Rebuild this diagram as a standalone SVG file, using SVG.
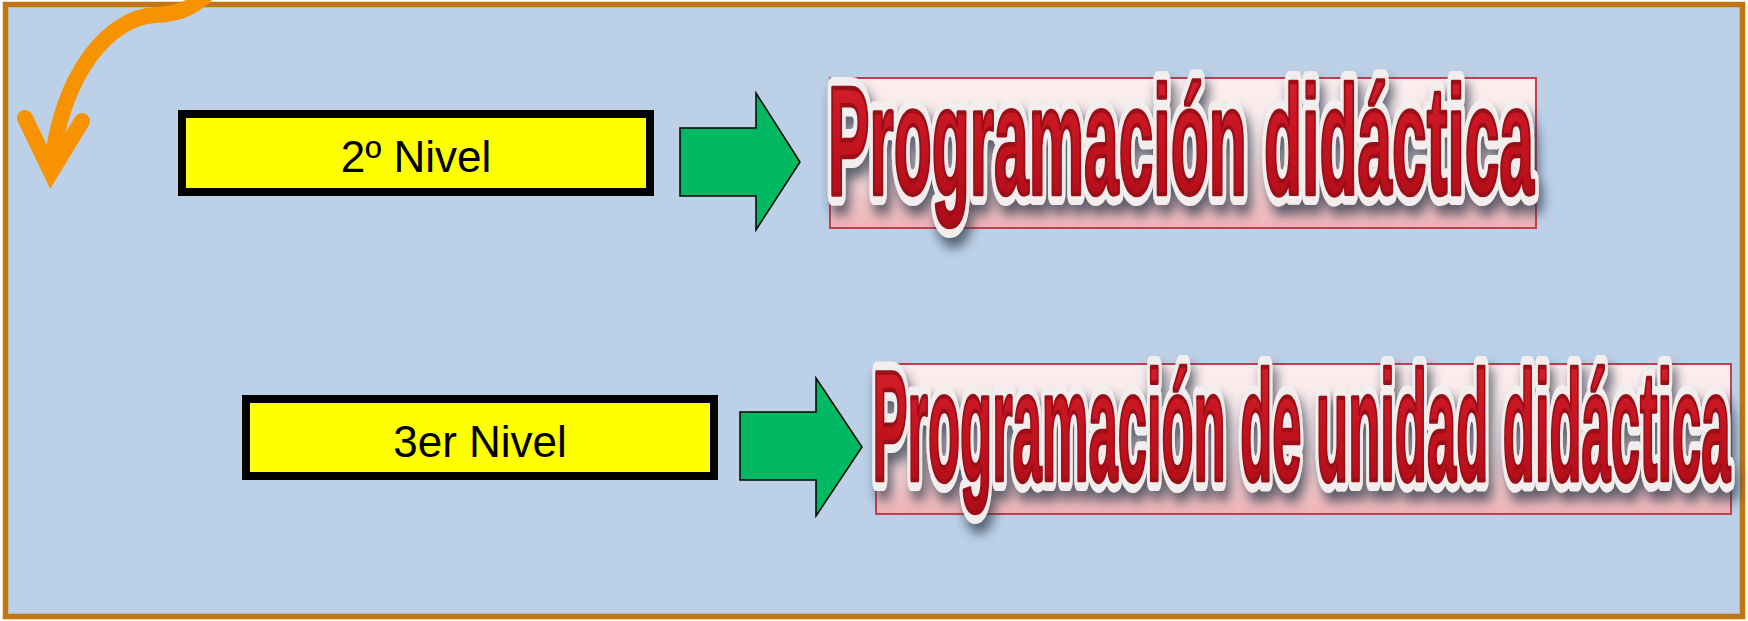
<svg xmlns="http://www.w3.org/2000/svg" width="1748" height="621" viewBox="0 0 1748 621">
<style>
.frame{fill:#BCD1E8;stroke:#C17612;stroke-width:5.5}
.lvl{fill:#FFFF00;stroke:#000;stroke-width:8}
.lvlt{font-family:"Liberation Sans",Arial,sans-serif;font-size:44px;fill:#000;text-anchor:middle}
.blk{fill:#00B862;stroke:#000;stroke-width:1.5;stroke-linejoin:miter}
.pink{fill:url(#pg);stroke:#C0404F;stroke-width:2}
.tt{font-family:"Liberation Sans",Arial,sans-serif;font-weight:bold}
.halo{fill:#F3EEEE;stroke:#F3EEEE;stroke-width:22;stroke-linejoin:round}
.red{fill:url(#rg);stroke:#9A0E18;stroke-width:4.5;stroke-linejoin:round}
.orange{fill:none;stroke:#F79300;stroke-width:16;stroke-linecap:round}
</style>
<defs>
<linearGradient id="pg" x1="0" y1="0" x2="0" y2="1">
<stop offset="0" stop-color="#FDEDEE"/>
<stop offset="0.5" stop-color="#F4E6E8"/>
<stop offset="1" stop-color="#F1B3B7"/>
</linearGradient>
<linearGradient id="rg" x1="0" y1="0" x2="0" y2="1">
<stop offset="0" stop-color="#D8222E"/>
<stop offset="0.5" stop-color="#C4141F"/>
<stop offset="1" stop-color="#AC0C17"/>
</linearGradient>
<filter id="sh" x="-5%" y="-20%" width="110%" height="150%">
<feDropShadow dx="4" dy="10" stdDeviation="6" flood-color="#2E3B4A" flood-opacity="0.75"/>
</filter>
</defs>
<rect class="frame" x="5.5" y="4.5" width="1737" height="612"/>
<g id="node-nivel2">
<rect class="lvl" x="182" y="114" width="468" height="78"/>
<text class="lvlt" x="416" y="172">2º Nivel</text>
</g>
<g id="node-nivel3">
<rect class="lvl" x="246" y="399" width="468" height="77"/>
<text class="lvlt" x="480" y="457">3er Nivel</text>
</g>
<g id="node-title1">
<rect class="pink" x="830" y="78" width="706" height="150"/>
<text class="tt halo" filter="url(#sh)" x="828" y="193.5" font-size="154" textLength="706" lengthAdjust="spacingAndGlyphs">Programación didáctica</text>
<text class="tt red" x="828" y="193.5" font-size="154" textLength="706" lengthAdjust="spacingAndGlyphs">Programación didáctica</text>
</g>
<g id="node-title2">
<rect class="pink" x="876" y="364" width="855" height="150"/>
<text class="tt halo" filter="url(#sh)" x="872.5" y="480" font-size="156" textLength="858" lengthAdjust="spacingAndGlyphs">Programación de unidad didáctica</text>
<text class="tt red" x="872.5" y="480" font-size="156" textLength="858" lengthAdjust="spacingAndGlyphs">Programación de unidad didáctica</text>
</g>
<g id="connectors">
<polygon class="blk" points="680,128 756,128 756,93 800,162 756,230 756,196 680,196"/>
<polygon class="blk" points="740,412 816,412 816,378 862,447 816,516 816,480 740,480"/>
<path class="orange" d="M205,-4 C190,10 175,14 155,15 C110,18 62,70 51,170"/>
<path class="orange" d="M25,118 L51,172 L82,121" style="stroke-linejoin:miter"/>
</g>
</svg>
